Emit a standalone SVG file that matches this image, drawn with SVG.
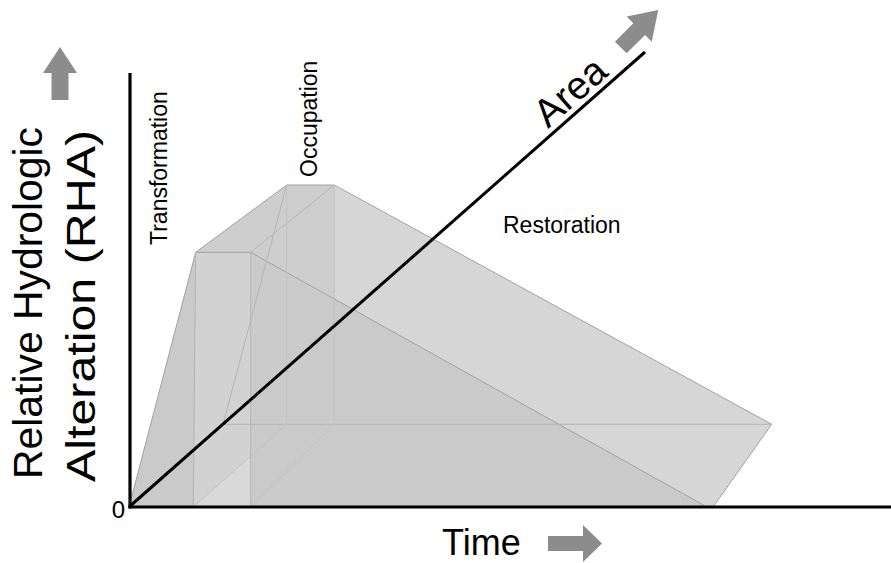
<svg xmlns="http://www.w3.org/2000/svg" width="891" height="563" viewBox="0 0 891 563">
  <style>
    .lbl { font-family: "Liberation Sans", Arial, sans-serif; fill: #000; }
    .edge { fill: none; stroke: #a2a2a2; stroke-width: 1; }
    .edge2 { fill: none; stroke: #b4b4b4; stroke-width: 1; }
    .edge3 { fill: none; stroke: #c2c2c2; stroke-width: 1; }
    .arrow { fill: #8c8c8c; }
    .axis { fill: none; stroke: #000; stroke-width: 3.2; stroke-linecap: butt; }
  </style>
  <rect width="891" height="563" fill="#fff"/>

  <g id="solid">
    <polygon points="129,507 195.7,252.3 286.7,185 334.3,185 771.7,424.3 713,507" fill="#d6d6d6"/>
    <polygon points="129,507 195.7,252.3 250.7,252.3 707,507" fill="#cacaca"/>
    <polygon points="195.7,252.3 286.7,185 334.3,185 334.3,298.3 250.7,252.3" fill="#cecece"/>
    <polygon points="193.3,507 195.7,252.3 250.7,252.3 250.7,507" fill="#d2d2d2"/>
    <polygon points="193.3,507 250.7,456 250.7,507" fill="#d9d9d9"/>
  </g>

  <g id="edges">
    <polyline class="edge" points="129,507 195.7,252.3 286.7,185 334.3,185 771.7,424.3 713,507"/>
    <polyline class="edge" points="195.7,252.3 250.7,252.3 707,507"/>
    <line class="edge2" x1="250.7" y1="252.3" x2="334.3" y2="185"/>
    <line class="edge2" x1="195.7" y1="252.3" x2="193.3" y2="507"/>
    <line class="edge2" x1="250.7" y1="252.3" x2="250.7" y2="507"/>
    <line class="edge2" x1="286.7" y1="185" x2="223" y2="424.3"/>
    <line class="edge3" x1="286.7" y1="185" x2="286.7" y2="424.3"/>
    <line class="edge3" x1="334.3" y1="185" x2="334.3" y2="424.3"/>
    <line class="edge2" x1="223" y1="424.3" x2="771.7" y2="424.3"/>
    <line class="edge3" x1="193.3" y1="507" x2="286.7" y2="424.3"/>
    <line class="edge3" x1="250.7" y1="507" x2="334.3" y2="424.3"/>
  </g>

  <g id="axes">
    <line class="axis" x1="130" y1="73" x2="130" y2="508.5"/>
    <line class="axis" x1="128.5" y1="507" x2="891" y2="507"/>
    <line x1="129" y1="507" x2="645" y2="52" stroke="#000" stroke-width="3"/>
  </g>

  <g id="arrows">
    <polygon class="arrow" points="60,47 77,73 68.5,73 68.5,100 51.5,100 51.5,73 43,73"/>
    <polygon class="arrow" points="548,536 583,536 583,525 602,543.5 583,562 583,551 548,551"/>
    <polygon class="arrow" transform="translate(620.8,47.5) rotate(-45)" points="0,-8.3 26,-8.3 26,-17.7 53,0 26,17.7 26,8.3 0,8.3"/>
  </g>

  <g id="labels">
    <text class="lbl" font-size="40" transform="translate(42,479) rotate(-90)" textLength="352" lengthAdjust="spacingAndGlyphs">Relative Hydrologic</text>
    <text class="lbl" font-size="40" transform="translate(95,482) rotate(-90)" textLength="352" lengthAdjust="spacingAndGlyphs">Alteration (RHA)</text>
    <text class="lbl" font-size="23" transform="translate(167,245) rotate(-90)">Transformation</text>
    <text class="lbl" font-size="23" transform="translate(317,177) rotate(-90)">Occupation</text>
    <text class="lbl" font-size="23" x="503" y="233">Restoration</text>
    <text class="lbl" font-size="39" transform="translate(548,129) rotate(-41.4)">Area</text>
    <text class="lbl" font-size="36" x="442" y="555">Time</text>
    <text class="lbl" font-size="24" x="125" y="518" text-anchor="end">0</text>
  </g>
</svg>
